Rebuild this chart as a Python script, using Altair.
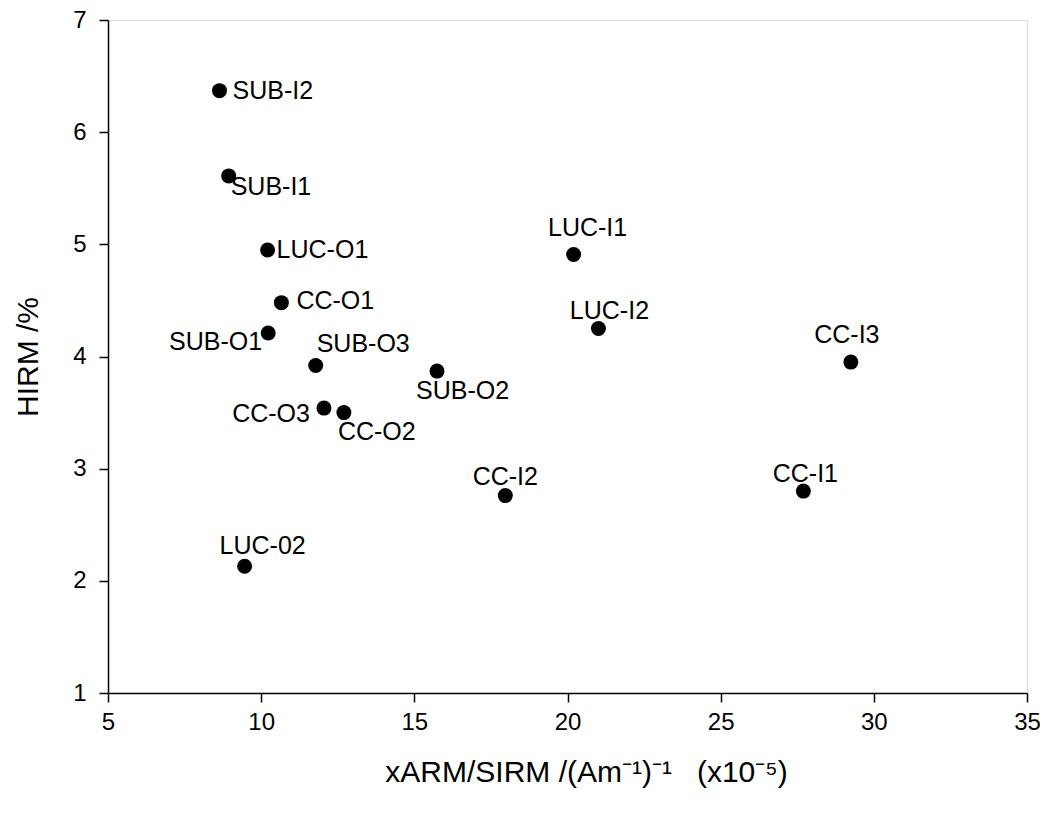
import altair as alt
import pandas as pd

# ---- data ----
labels = ["SUB-I2", "SUB-I1", "LUC-O1", "CC-O1", "SUB-O1", "SUB-O3", "SUB-O2",
          "CC-O3", "CC-O2", "CC-I2", "LUC-02", "LUC-I1", "LUC-I2", "CC-I3", "CC-I1"]
xarm_sirm = [8.64, 8.94, 10.21, 10.66, 10.23, 11.78, 15.74,
             12.05, 12.70, 17.97, 9.46, 20.20, 21.01, 29.25, 27.70]
hirm = [6.37, 5.61, 4.95, 4.48, 4.21, 3.92, 3.87,
        3.54, 3.50, 2.76, 2.13, 4.91, 4.25, 3.95, 2.80]

x_ticks = [5, 10, 15, 20, 25, 30, 35]
y_ticks = [1, 2, 3, 4, 5, 6, 7]

# label placement relative to each point (align, dx, dy)
placement = {
    "SUB-I2": ("left", 13, 0),
    "SUB-I1": ("left", 2, 11),
    "LUC-O1": ("left", 9, 0),
    "CC-O1": ("left", 15, -2),
    "SUB-O1": ("right", -6, 9),
    "SUB-O3": ("left", 1, -21),
    "SUB-O2": ("left", -21, 20),
    "CC-O3": ("right", -14, 6),
    "CC-O2": ("left", -6, 19),
    "CC-I2": ("center", 0, -19),
    "LUC-02": ("center", 18, -20),
    "LUC-I1": ("center", 14, -26),
    "LUC-I2": ("center", 11, -17),
    "CC-I3": ("center", -4, -27),
    "CC-I1": ("center", 2, -17),
}

df = pd.DataFrame({"label": labels, "x": xarm_sirm, "y": hirm})

FONT = "Liberation Sans"
NB = "\u00a0"

x_enc = alt.X("x:Q",
              scale=alt.Scale(domain=[5, 35], nice=False, zero=False),
              axis=alt.Axis(values=x_ticks, format="d",
                            title=f"xARM/SIRM /(Am⁻¹)⁻¹{NB}{NB}{NB}(x10⁻⁵)",
                            grid=False, tickSize=9, tickWidth=1.5, domainWidth=1.5,
                            domainColor="black", tickColor="black",
                            labelFont=FONT, labelFontSize=24, labelColor="black",
                            labelPadding=8, labelFlush=False,
                            titleFont=FONT, titleFontSize=30, titleFontWeight="normal",
                            titleColor="black", titleBaseline="middle", titleY=79,
                            titleX=478, titleAlign="center"))
y_enc = alt.Y("y:Q",
              scale=alt.Scale(domain=[1, 7], nice=False, zero=False),
              axis=alt.Axis(values=y_ticks, format="d", title="HIRM /%",
                            grid=False, tickSize=9, tickWidth=1.5, domainWidth=1.5,
                            domainColor="black", tickColor="black",
                            labelFont=FONT, labelFontSize=24, labelColor="black",
                            labelPadding=13, labelFlush=False,
                            titleFont=FONT, titleFontSize=30, titleFontWeight="normal",
                            titleColor="black", titleBaseline="middle",
                            titleX=-80, titleY=336.5, titleAngle=-90, titleAlign="center"))

points = alt.Chart(df).mark_circle(size=225, color="black", opacity=1).encode(
    x=x_enc, y=y_enc)

layers = [points]
for lab in labels:
    align, dx, dy = placement[lab]
    layers.append(
        alt.Chart(df).transform_filter(alt.datum.label == lab).mark_text(
            align=align, baseline="middle", dx=dx, dy=dy,
            font=FONT, fontSize=25, color="black"
        ).encode(x="x:Q", y="y:Q", text="label:N")
    )

chart = alt.layer(*layers).properties(
    width=919, height=673,
    autosize=alt.AutoSizeParams(type="none"),
    padding={"left": 100, "top": 12, "right": 13, "bottom": 110},
).configure_view(stroke="black", strokeWidth=1.5).configure(background="white")

chart.save("out.html", embed_options={"renderer": "svg", "actions": False})
